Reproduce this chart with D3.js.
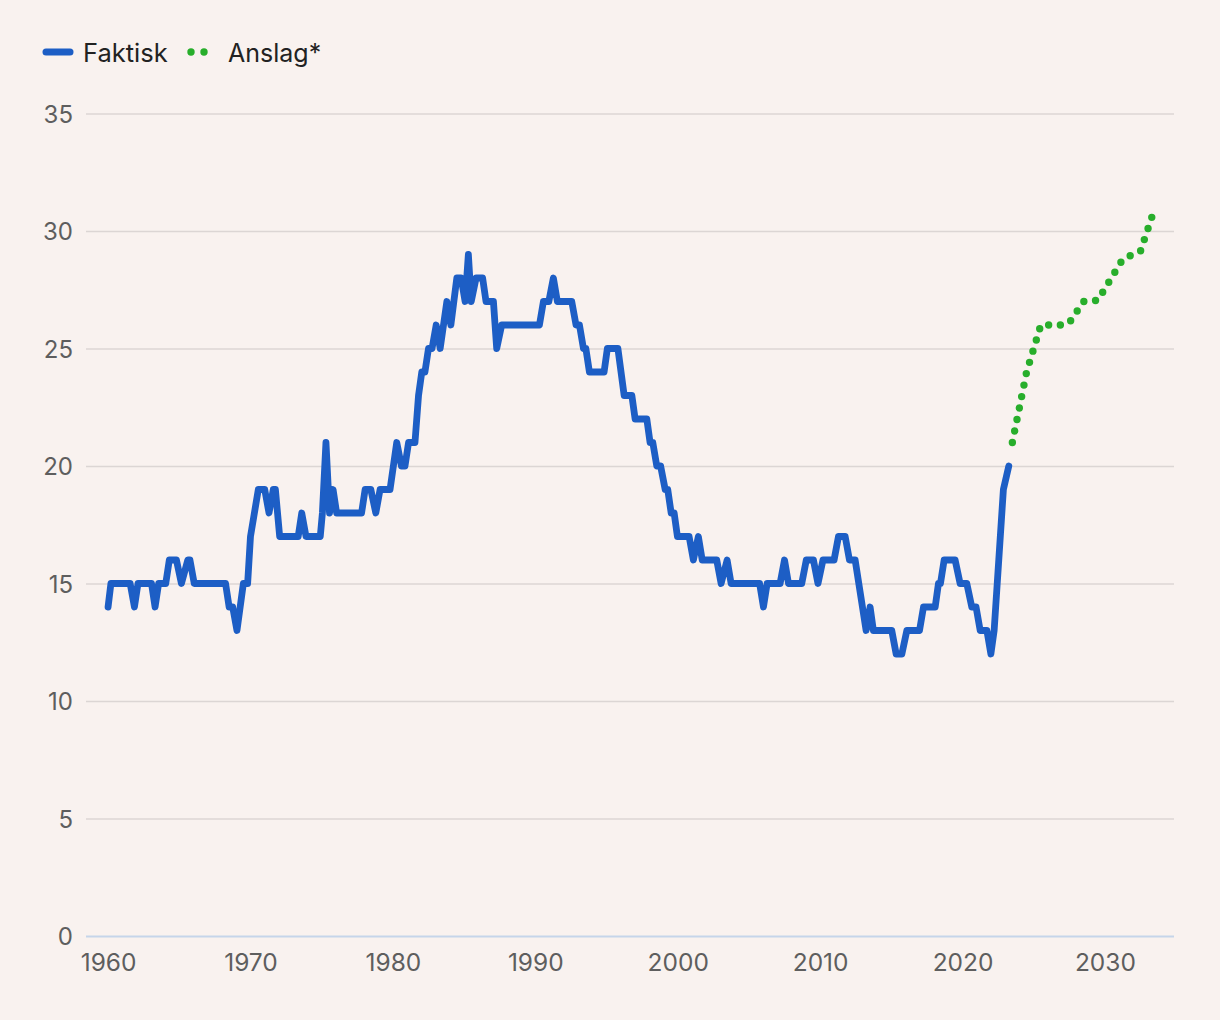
<!DOCTYPE html>
<html>
<head>
<meta charset="utf-8">
<script src="https://cdn.jsdelivr.net/npm/d3@7"></script>
<style>
  html, body { margin: 0; padding: 0; background: #f9f2ef; }
  svg { display: block; }
</style>
</head>
<body>
<svg id="chart" width="1220" height="1020"></svg>
<script>
// ---------- DATA ----------
const seriesNames = ["Faktisk", "Anslag*"];

const factYears = [
  1960.0, 1960.2, 1961.55, 1961.85, 1962.1, 1963.05, 1963.3, 1963.55, 1964.05, 1964.3,
  1964.8, 1965.15, 1965.6, 1965.75, 1966.05, 1968.25, 1968.5, 1968.75, 1969.05, 1969.5,
  1969.8, 1970.0, 1970.55, 1971.0, 1971.3, 1971.6, 1971.75, 1972.05, 1973.35, 1973.6,
  1973.9, 1974.9, 1975.05, 1975.3, 1975.55, 1975.8, 1976.05, 1977.8, 1978.05, 1978.45,
  1978.8, 1979.1, 1979.8, 1980.27, 1980.6, 1980.85, 1981.1, 1981.55, 1981.8, 1982.03,
  1982.25, 1982.5, 1982.75, 1983.04, 1983.32, 1983.79, 1984.07, 1984.49, 1984.79, 1985.07,
  1985.3, 1985.5, 1985.84, 1986.3, 1986.54, 1987.06, 1987.29, 1987.64, 1990.29, 1990.57,
  1990.95, 1991.27, 1991.55, 1992.56, 1992.86, 1993.1, 1993.38, 1993.55, 1993.8, 1994.83,
  1995.06, 1995.8, 1996.24, 1996.78, 1997.01, 1997.83, 1998.06, 1998.25, 1998.53, 1998.8,
  1999.12, 1999.3, 1999.54, 1999.75, 1999.98, 2000.8, 2001.1, 2001.45, 2001.72, 2002.74,
  2003.05, 2003.47, 2003.75, 2005.75, 2006.02, 2006.28, 2007.19, 2007.5, 2007.78, 2008.71,
  2009.03, 2009.53, 2009.85, 2010.2, 2010.98, 2011.29, 2011.76, 2012.06, 2012.46, 2013.23,
  2013.51, 2013.74, 2015.03, 2015.34, 2015.74, 2016.09, 2016.98, 2017.26, 2018.08, 2018.31,
  2018.45, 2018.71, 2019.48, 2019.83, 2020.3, 2020.65, 2020.95, 2021.24, 2021.71, 2021.99,
  2022.22, 2022.87, 2023.25
];
const factValues = [
  14, 15, 15, 14, 15, 15, 14, 15, 15, 16,
  16, 15, 16, 16, 15, 15, 14, 14, 13, 15,
  15, 17, 19, 19, 18, 19, 19, 17, 17, 18,
  17, 17, 18, 21, 18, 19, 18, 18, 19, 19,
  18, 19, 19, 21, 20, 20, 21, 21, 23, 24,
  24, 25, 25, 26, 25, 27, 26, 28, 28, 27,
  29, 27, 28, 28, 27, 27, 25, 26, 26, 27,
  27, 28, 27, 27, 26, 26, 25, 25, 24, 24,
  25, 25, 23, 23, 22, 22, 21, 21, 20, 20,
  19, 19, 18, 18, 17, 17, 16, 17, 16, 16,
  15, 16, 15, 15, 14, 15, 15, 16, 15, 15,
  16, 16, 15, 16, 16, 17, 17, 16, 16, 13,
  14, 13, 13, 12, 12, 13, 13, 14, 14, 15,
  15, 16, 16, 15, 15, 14, 14, 13, 13, 12,
  13, 19, 20
];

const forecastYears  = [2023.5, 2024.5, 2025.5, 2027.0, 2027.5, 2028.5, 2029.5, 2031.25, 2032.5, 2033.3];
const forecastValues = [21.0,   24.0,   26.0,   26.0,   26.1,   27.0,   27.05,  28.8,    29.15,  30.6];

const xTicks = [1960, 1970, 1980, 1990, 2000, 2010, 2020, 2030];
const yTicks = [0, 5, 10, 15, 20, 25, 30, 35];

// ---------- CHART ----------
const blue = "#1d5ec5";
const green = "#28ae2b";
const font = "Inter, 'Noto Sans', sans-serif";
const svg = d3.select("#chart");
svg.append("rect").attr("width", 1220).attr("height", 1020).attr("fill", "#f9f2ef");

const x = d3.scaleLinear().domain([1958.45, 2034.85]).range([86, 1174]);
const y = d3.scaleLinear().domain([0, 35]).range([936, 113.5]);

// gridlines + y labels
const yAxis = d3.axisLeft(y).tickValues(yTicks).tickSize(-(1174 - 86)).tickPadding(13)
  .tickFormat(d3.format("d"));
const gy = svg.append("g").attr("transform", "translate(86,0)").call(yAxis);
gy.select(".domain").remove();
gy.selectAll(".tick line").attr("stroke", d => d === 0 ? "#c6d5ea" : "#dcd6d4")
  .attr("stroke-width", d => d === 0 ? 2.2 : 1.6);
gy.selectAll(".tick text").attr("fill", "#5e5e5e").attr("font-family", font)
  .attr("font-size", 24).attr("dy", "0.36em");

// x axis labels
const xAxis = d3.axisBottom(x).tickValues(xTicks).tickSize(0).tickPadding(18).tickFormat(d3.format("d"));
const gx = svg.append("g").attr("transform", "translate(0,936)").call(xAxis);
gx.select(".domain").remove();
gx.selectAll(".tick text").attr("fill", "#5e5e5e").attr("font-family", font)
  .attr("font-size", 24.5);

// lines
const line = d3.line().x(d => x(d[0])).y(d => y(d[1]));
const factData = factYears.map((t, i) => [t, factValues[i]]);
const fcData = forecastYears.map((t, i) => [t, forecastValues[i]]);

const fcPath = svg.append("path").datum(fcData).attr("d", line)
  .attr("fill", "none").attr("stroke", green).attr("stroke-width", 7.4)
  .attr("stroke-linecap", "round");
const len = fcPath.node().getTotalLength();
const gap = len / Math.round(len / 11.9) - 0.02;
fcPath.attr("stroke-dasharray", `0 ${gap}`);

svg.append("path").datum(factData).attr("d", line)
  .attr("fill", "none").attr("stroke", blue).attr("stroke-width", 6.8)
  .attr("stroke-linejoin", "round").attr("stroke-linecap", "round");

// legend
const lg = svg.append("g");
lg.append("line").attr("x1", 46).attr("x2", 70).attr("y1", 52).attr("y2", 52)
  .attr("stroke", blue).attr("stroke-width", 7).attr("stroke-linecap", "round");
lg.append("text").attr("x", 83).attr("y", 61.5).text(seriesNames[0])
  .attr("font-family", font).attr("font-size", 25.5).attr("fill", "#222");
[191, 204].forEach(cx => lg.append("circle").attr("cx", cx).attr("cy", 52).attr("r", 3.7).attr("fill", green));
lg.append("text").attr("x", 228).attr("y", 61.5).text(seriesNames[1])
  .attr("font-family", font).attr("font-size", 25).attr("fill", "#222");
</script>
</body>
</html>
